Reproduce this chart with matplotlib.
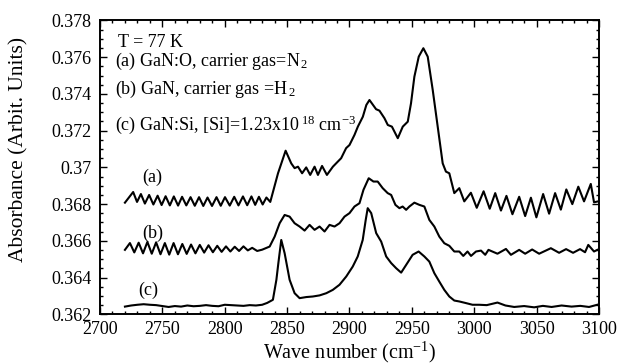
import matplotlib
matplotlib.use("Agg")
import matplotlib.pyplot as plt
from matplotlib.ticker import MultipleLocator, FuncFormatter

plt.rcParams["font.family"] = ["Liberation Serif", "DejaVu Serif"]
plt.rcParams["mathtext.fontset"] = "custom"
plt.rcParams["mathtext.rm"] = "Liberation Serif"
plt.rcParams["mathtext.it"] = "Liberation Serif:italic"
plt.rcParams["mathtext.default"] = "rm"

# curva (a): GaN:O, gas portador N2
wn_a = [2720, 2726.6, 2729.7, 2732.8, 2736.0, 2739.4, 2742.8, 2746.2, 2749.4, 2752.6,
        2756.0, 2759.2, 2762.6, 2765.8, 2769.2, 2772.6, 2776.0, 2779.4, 2782.8, 2786.2,
        2789.8, 2793.4, 2796.8, 2800.2, 2804.0, 2807.6, 2811.0, 2814.6, 2818.0, 2821.4,
        2824.4, 2827.4, 2830.4, 2833.4, 2836.5, 2842.7, 2848.8, 2853.3, 2856.0, 2858.7,
        2862.0, 2865.3, 2868.5, 2872.0, 2874.7, 2878.0, 2881.9, 2886.7, 2890.7, 2893.3,
        2897.3, 2900.0, 2904.0, 2906.7, 2910.7, 2913.5, 2916.0, 2921.3, 2924.0, 2928.0,
        2930.7, 2934.0, 2938.7, 2942.7, 2946.7, 2949.3, 2952.0, 2955.5, 2959.2, 2962.7,
        2966.7, 2970.7, 2974.7, 2977.3, 2980.0, 2984.0, 2988.0, 2992.0, 2997.3, 3002.0,
        3007.5, 3012.4, 3016.8, 3021.4, 3025.8, 3030.6, 3036.0, 3040.8, 3045.4, 3049.8,
        3055.2, 3060.0, 3064.8, 3069.4, 3073.8, 3078.6, 3083.4, 3088.0, 3093.4, 3096.0,
        3098.6]
abs_a = [0.36808, 0.36866, 0.36812, 0.36855, 0.36803, 0.36850, 0.36798, 0.36846, 0.36795, 0.36843,
         0.36793, 0.36842, 0.36792, 0.36840, 0.36793, 0.36838, 0.36791, 0.36838, 0.36790, 0.36836,
         0.36790, 0.36838, 0.36791, 0.36838, 0.36792, 0.36840, 0.36793, 0.36842, 0.36794, 0.36842,
         0.36796, 0.36840, 0.36798, 0.36836, 0.36812, 0.36968, 0.37091, 0.37022, 0.36996, 0.37004,
         0.36968, 0.37000, 0.36959, 0.37004, 0.36959, 0.37008, 0.36959, 0.37004, 0.37032, 0.37050,
         0.37105, 0.37122, 0.37177, 0.37222, 0.37276, 0.37340, 0.37367, 0.37317, 0.37309, 0.37268,
         0.37231, 0.37222, 0.37159, 0.37222, 0.37249, 0.37349, 0.37494, 0.37603, 0.37649, 0.37603,
         0.37422, 0.37222, 0.37022, 0.36977, 0.36968, 0.36860, 0.36887, 0.36815, 0.36862, 0.36780,
         0.36870, 0.36775, 0.36860, 0.36765, 0.36845, 0.36745, 0.36840, 0.36735, 0.36835, 0.36728,
         0.36855, 0.36748, 0.36860, 0.36770, 0.36880, 0.36800, 0.36895, 0.36815, 0.36910, 0.36810,
         0.36814]

# curva (b): GaN, gas portador H2
wn_b = [2720, 2724.0, 2727.5, 2731.0, 2734.5, 2738.0, 2741.5, 2745.0, 2748.5, 2752.0,
        2755.5, 2759.0, 2762.5, 2766.0, 2769.5, 2773.0, 2776.5, 2780.0, 2783.5, 2787.0,
        2790.5, 2794.0, 2797.5, 2801.0, 2804.5, 2808.0, 2811.5, 2815.0, 2818.5, 2822.0,
        2826.0, 2830.0, 2836.0, 2840.0, 2844.0, 2848.0, 2852.0, 2856.0, 2860.0, 2864.0,
        2868.0, 2872.0, 2876.0, 2880.0, 2884.0, 2888.0, 2892.0, 2896.0, 2900.0, 2904.0,
        2908.0, 2911.2, 2915.4, 2919.2, 2922.6, 2926.6, 2930.6, 2933.4, 2936.8, 2940.0,
        2942.6, 2945.4, 2948.0, 2952.0, 2956.0, 2960.0, 2964.0, 2968.0, 2972.0, 2976.0,
        2980.0, 2984.0, 2988.0, 2991.2, 2994.6, 2997.4, 3001.4, 3005.4, 3008.8, 3011.4,
        3018.6, 3025.4, 3029.4, 3036.0, 3040.8, 3046.4, 3052.0, 3061.4, 3068.0, 3073.6,
        3079.2, 3084.8, 3088.8, 3091.4, 3096.0, 3098.6]
abs_b = [0.36551, 0.36588, 0.36537, 0.36590, 0.36532, 0.36594, 0.36530, 0.36592, 0.36527, 0.36588,
         0.36525, 0.36588, 0.36527, 0.36583, 0.36529, 0.36580, 0.36532, 0.36578, 0.36536, 0.36576,
         0.36538, 0.36573, 0.36540, 0.36570, 0.36542, 0.36568, 0.36545, 0.36570, 0.36548, 0.36562,
         0.36545, 0.36552, 0.36569, 0.36623, 0.36696, 0.36741, 0.36732, 0.36696, 0.36678, 0.36656,
         0.36687, 0.36660, 0.36678, 0.36651, 0.36687, 0.36678, 0.36696, 0.36732, 0.36751, 0.36787,
         0.36805, 0.36878, 0.36941, 0.36923, 0.36923, 0.36887, 0.36860, 0.36850, 0.36796, 0.36778,
         0.36787, 0.36769, 0.36787, 0.36808, 0.36796, 0.36787, 0.36714, 0.36678, 0.36623, 0.36587,
         0.36573, 0.36542, 0.36542, 0.36518, 0.36542, 0.36518, 0.36542, 0.36547, 0.36524, 0.36551,
         0.36530, 0.36556, 0.36524, 0.36551, 0.36530, 0.36553, 0.36530, 0.36560, 0.36535, 0.36555,
         0.36535, 0.36555, 0.36538, 0.36578, 0.36542, 0.36551]

# curva (c): GaN:Si
wn_c = [2720, 2725, 2730, 2735, 2740, 2745, 2750, 2755, 2760, 2765,
        2770, 2775, 2780, 2785, 2790, 2795, 2800, 2805, 2810, 2815,
        2820, 2825, 2830, 2834, 2838.6, 2841.4, 2843.0, 2845.3, 2848.0, 2852.0,
        2856.0, 2860.0, 2865.4, 2870.6, 2876.0, 2881.4, 2886.6, 2892.0, 2897.4, 2902.6,
        2906.6, 2910.6, 2913.0, 2914.6, 2917.4, 2921.4, 2925.4, 2929.4, 2933.4, 2937.4,
        2941.4, 2945.4, 2950.6, 2955.4, 2960.0, 2964.0, 2968.0, 2972.0, 2976.0, 2980.0,
        2984.0, 2988.0, 2993.4, 2998.6, 3004.0, 3010.0, 3018.6, 3025.0, 3032.0, 3040.0,
        3048.0, 3055.0, 3062.0, 3070.0, 3078.0, 3085.0, 3092.0, 3098.6]
abs_c = [0.36242, 0.36248, 0.36252, 0.36255, 0.36252, 0.36250, 0.36245, 0.36240, 0.36245, 0.36242,
         0.36248, 0.36244, 0.36246, 0.36250, 0.36246, 0.36244, 0.36252, 0.36250, 0.36248, 0.36246,
         0.36250, 0.36248, 0.36252, 0.36262, 0.36279, 0.36388, 0.36480, 0.36605, 0.36533, 0.36388,
         0.36315, 0.36288, 0.36294, 0.36297, 0.36303, 0.36315, 0.36333, 0.36361, 0.36406, 0.36460,
         0.36515, 0.36605, 0.36714, 0.36778, 0.36751, 0.36642, 0.36596, 0.36515, 0.36479, 0.36451,
         0.36427, 0.36469, 0.36524, 0.36542, 0.36515, 0.36487, 0.36424, 0.36378, 0.36333, 0.36297,
         0.36275, 0.36270, 0.36261, 0.36252, 0.36252, 0.36250, 0.36264, 0.36248, 0.36240, 0.36245,
         0.36238, 0.36246, 0.36240, 0.36248, 0.36242, 0.36246, 0.36240, 0.36252]

fig = plt.figure(figsize=(6.21, 3.64), dpi=100)
ax = fig.add_axes([0.161, 0.1365, 0.8036, 0.8072])

for w, a in ((wn_a, abs_a), (wn_b, abs_b), (wn_c, abs_c)):
    ax.plot(w, a, color="black", lw=1.5, solid_joinstyle="round")

ax.set_xlim(2700, 3100)
ax.set_ylim(0.362, 0.378)
ax.xaxis.set_major_locator(MultipleLocator(50))
ax.xaxis.set_minor_locator(MultipleLocator(10))
ax.yaxis.set_major_locator(MultipleLocator(0.002))
ax.yaxis.set_minor_locator(MultipleLocator(0.0005))
ax.yaxis.set_major_formatter(FuncFormatter(lambda v, p: "%g" % round(v, 4)))
ax.tick_params(which="both", direction="in", top=True, right=True, labelsize=13, width=1.0)
ax.tick_params(which="major", length=5)
ax.tick_params(which="minor", length=2.5)
ax.tick_params(axis="x", which="major", pad=4.5)
ax.tick_params(axis="y", which="major", pad=6)
for s in ax.spines.values():
    s.set_linewidth(1.4)

ax.set_xlabel("Wave number (cm$^{-1}$)", fontsize=14.5, va="top")
ax.xaxis.set_label_coords(0.5, -0.086)
ax.set_ylabel("Absorbance (Arbit. Units)", fontsize=15.5)
ax.yaxis.set_label_coords(-0.144, 0.56)

fs = 13
ax.text(2714.4, 0.37657, "T = 77 K", fontsize=fs, va="baseline")
ax.text(2712, 0.37554, "(a) GaN:O, carrier gas=N$_{\\,2}$", fontsize=fs, va="baseline")
ax.text(2712, 0.37398, "(b) GaN, carrier gas =H$_{\\,2}$", fontsize=fs, va="baseline")
ax.text(2712, 0.37204, "(c) GaN:Si, [Si]=1.23x10$^{\\ 18}$ cm$^{-3}$", fontsize=fs, va="baseline")

ax.text(2742, 0.36921, "(a)", fontsize=fs, ha="center", va="baseline")
ax.text(2742.6, 0.36618, "(b)", fontsize=fs, ha="center", va="baseline")
ax.text(2738.7, 0.36306, "(c)", fontsize=fs, ha="center", va="baseline")

fig.savefig("out.png", dpi=100)
